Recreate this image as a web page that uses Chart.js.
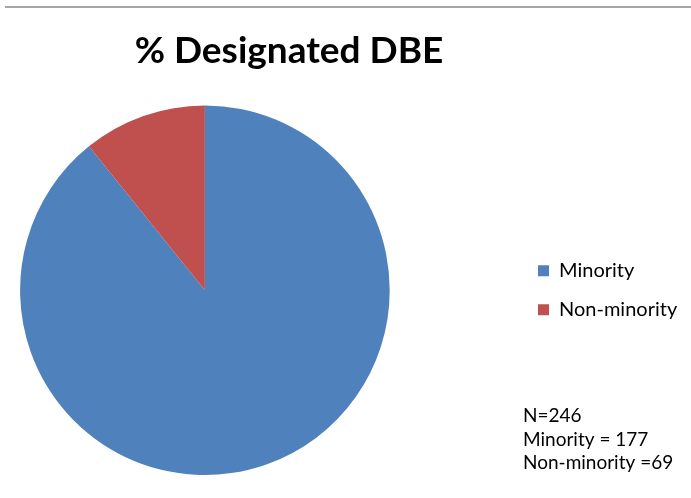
<!DOCTYPE html>
<html>
<head>
<meta charset="utf-8">
<script src="https://cdn.jsdelivr.net/npm/chart.js@4.4.1/dist/chart.umd.min.js"></script>
<style>
  html, body { margin: 0; padding: 0; background: #fff; }
  #wrap { position: relative; width: 691px; height: 498px; }
  #rule { position: absolute; left: 5px; right: 0; top: 6px; border-top: 2px solid #a6a6a6; }
</style>
</head>
<body>
<div id="wrap">
  <div id="rule"></div>
  <canvas id="dbe" width="691" height="498"></canvas>
</div>
<script>
const categories = ['Minority', 'Non-minority'];
const shares = [89.2, 10.8];
const sliceColors = ['#4f81bd', '#c0504d'];
const noteLines = ['N=246', 'Minority = 177', 'Non-minority =69'];

// legend sits well to the right of the pie, not flush against it
const LEGEND_LEFT = 519;

const legendShift = {
  id: 'legendShift',
  afterLayout(chart) {
    const lg = chart.legend;
    const w = lg.width;
    lg.left = LEGEND_LEFT;
    lg.right = LEGEND_LEFT + w;
    lg.top = chart.chartArea.top;
    lg.bottom = chart.chartArea.bottom;
    lg.height = lg.bottom - lg.top;
  }
};

// sample-size note under the legend
const notePlugin = {
  id: 'sampleNote',
  afterDraw(chart) {
    const ctx = chart.ctx;
    ctx.save();
    ctx.fillStyle = '#000';
    ctx.font = '19px Lato';
    ctx.textBaseline = 'middle';
    noteLines.forEach((line, i) => {
      ctx.fillText(line, 523, 416 + i * 23.5);
    });
    ctx.restore();
  }
};

new Chart(document.getElementById('dbe'), {
  type: 'pie',
  data: {
    labels: categories,
    datasets: [{
      data: shares,
      backgroundColor: sliceColors,
      borderWidth: 0
    }]
  },
  options: {
    responsive: false,
    animation: false,
    layout: {
      padding: { left: 19, right: 132, top: 0, bottom: 23 }
    },
    plugins: {
      title: {
        display: true,
        text: '% Designated DBE',
        color: '#000',
        font: { family: 'Lato', size: 37, weight: 'bold' },
        padding: { top: 29, bottom: 32 }
      },
      legend: {
        position: 'right',
        labels: {
          color: '#000',
          font: { family: 'Lato', size: 20 },
          boxWidth: 11,
          boxHeight: 11,
          padding: 19
        }
      },
      tooltip: { enabled: false }
    }
  },
  plugins: [legendShift, notePlugin]
});
</script>
</body>
</html>
